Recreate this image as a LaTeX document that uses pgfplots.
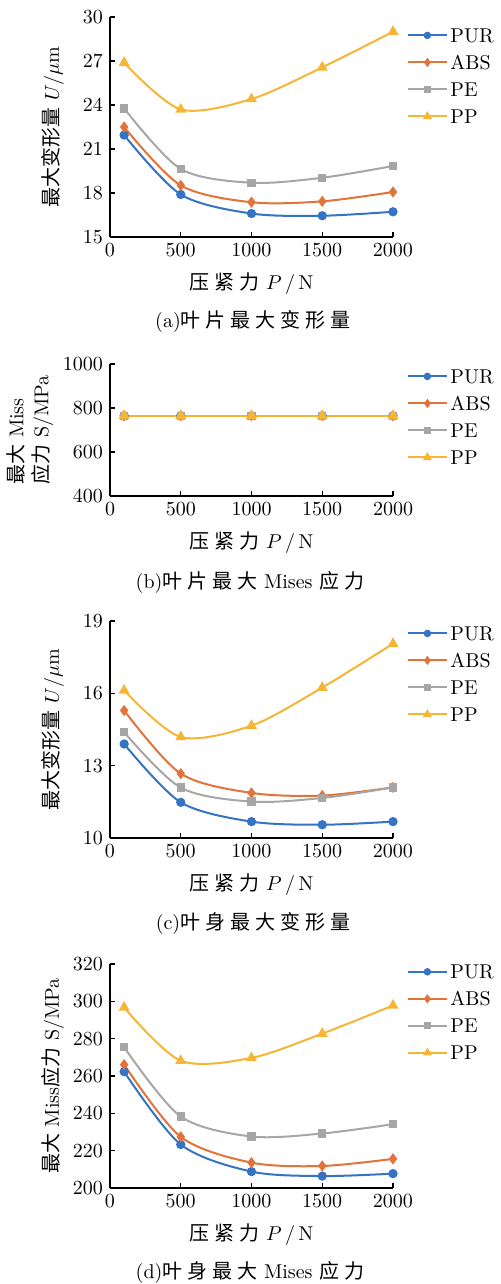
\documentclass[border=0pt]{standalone}
\usepackage{fontspec}
\usepackage{pgfplots}
\usepackage{pgfplotstable}
\pgfplotsset{compat=1.18}

\newfontfamily\cjk{Noto Sans CJK SC}
\newfontfamily\cjksp{Noto Sans CJK SC}[LetterSpace=25]

\definecolor{cpur}{HTML}{3573C4}
\definecolor{cabs}{HTML}{E2733A}
\definecolor{cpe}{HTML}{A6A6A6}
\definecolor{cpp}{HTML}{F6B534}

% blade max deformation (um)
\pgfplotstableread{
P    pur    abs    pe     pp
100  21.95  22.50  23.77  26.89
500  17.90  18.52  19.64  23.70
1000 16.60  17.37  18.70  24.41
1500 16.45  17.43  19.04  26.57
2000 16.72  18.07  19.84  29.00
}\bladedef
% blade max Mises stress (MPa)
\pgfplotstableread{
P    pur  abs  pe   pp
100  765  765  765  765
500  765  765  765  765
1000 765  765  765  765
1500 765  765  765  765
2000 765  765  765  765
}\bladestress
% body max deformation (um)
\pgfplotstableread{
P    pur    abs    pe     pp
100  13.90  15.29  14.39  16.12
500  11.48  12.67  12.09  14.19
1000 10.68  11.87  11.51  14.66
1500 10.55  11.76  11.66  16.24
2000 10.68  12.10  12.10  18.06
}\bodydef
% body max Mises stress (MPa)
\pgfplotstableread{
P    pur    abs    pe     pp
100  262.3  266.1  275.4  296.7
500  223.3  227.4  238.3  268.2
1000 208.8  213.6  227.6  269.7
1500 206.4  211.8  229.2  282.7
2000 207.7  215.6  234.2  297.8
}\bodystress

\pgfplotsset{
  panel/.style={
    scale only axis, width=141.5pt,
    xmin=0, xmax=2000, xtick={0,500,1000,1500,2000},
    enlargelimits=false, clip=false,
    axis x line*=bottom, axis y line*=left,
    axis line style={-, line width=0.7pt},
    tick align=inside, major tick length=2.5pt,
    tick style={black, line width=0.6pt},
    tick label style={font=\fontsize{10}{12}\selectfont},
    scaled ticks=false,
    xticklabel style={/pgf/number format/.cd, 1000 sep={}},
    yticklabel style={/pgf/number format/.cd, 1000 sep={}},
    xlabel={{\cjksp 压紧力} $P$\,/\,N},
    xlabel style={at={(axis description cs:0.5,0)}, anchor=center, yshift=-23.5pt,
      font=\fontsize{10}{12}\selectfont},
    ylabel style={font=\fontsize{10}{12}\selectfont},
    legend cell align=left,
    legend image code/.code={\draw[mark repeat=2, mark phase=2,
      every mark/.append style={scale=0.75}]
      plot coordinates {(0pt,0pt) (9.5pt,0pt) (19pt,0pt)};},
    legend style={draw=none, fill=none, inner sep=0pt,
      at={(axis description cs:1,1)}, anchor=north west, xshift=7pt,
      font=\fontsize{10}{12}\selectfont, row sep=6.5pt,
      nodes={inner xsep=1.5pt, inner ysep=0pt, text height=7pt, text depth=0pt}},
  },
  spur/.style={color=cpur, line width=1pt, smooth, mark=*, mark size=1.8pt},
  sabs/.style={color=cabs, line width=1pt, smooth, mark=diamond*, mark size=2pt},
  spe/.style={color=cpe, line width=1pt, smooth, mark=square*, mark size=1.6pt},
  spp/.style={color=cpp, line width=1pt, smooth, mark=triangle*, mark size=2.2pt},
}

\newcommand\fourseries[1]{%
  \addplot[spur] table[x=P, y=pur] {#1};
  \addplot[sabs] table[x=P, y=abs] {#1};
  \addplot[spe]  table[x=P, y=pe]  {#1};
  \addplot[spp]  table[x=P, y=pp]  {#1};
  \legend{PUR, ABS, PE, PP}%
}

\begin{document}
\begin{tikzpicture}
\useasboundingbox (0pt,0pt) rectangle (250.5pt,-642pt);

% (a)
\begin{axis}[panel, at={(55pt,-118.5pt)}, anchor=south west, height=110pt,
  ymin=15, ymax=30, ytick={15,18,...,30},
  ylabel={{\cjk 最大变形量} $U/\mu$m},
  ylabel style={at={(axis description cs:-0.2014,0.5)}, anchor=center},
  legend style={yshift=-5.5pt}]
  \fourseries{\bladedef}
\end{axis}
\node[font=\fontsize{10}{12}\selectfont] at (126.5pt,-161pt) {(a){\cjksp 叶片最大变形量}};

% (b)
\begin{axis}[panel, at={(55pt,-248pt)}, anchor=south west, height=66pt,
  ymin=400, ymax=1000, ytick={400,600,800,1000},
  ylabel={{\cjk 最大} Miss\\{\cjk 应力} S/MPa},
  ylabel style={at={(axis description cs:-0.2827,0.5)}, anchor=center,
    align=left, font=\fontsize{10}{12.5}\selectfont},
  legend style={yshift=-2.5pt}]
  \fourseries{\bladestress}
\end{axis}
\node[font=\fontsize{10}{12}\selectfont] at (125pt,-291.5pt) {(b){\cjksp 叶片最大} Mises {\cjksp 应力}};

% (c)
\begin{axis}[panel, at={(55pt,-419pt)}, anchor=south west, height=108.5pt,
  ymin=10, ymax=19, ytick={10,13,16,19},
  ylabel={{\cjk 最大变形量} $U/\mu$m},
  ylabel style={at={(axis description cs:-0.2014,0.5)}, anchor=center},
  legend style={yshift=-2.5pt}]
  \fourseries{\bodydef}
\end{axis}
\node[font=\fontsize{10}{12}\selectfont] at (126.5pt,-461.5pt) {(c){\cjksp 叶身最大变形量}};

% (d)
\begin{axis}[panel, at={(55pt,-594pt)}, anchor=south west, height=112pt,
  ymin=200, ymax=320, ytick={200,220,...,320},
  ylabel={{\cjk 最大} Miss{\cjk 应力} S/MPa},
  ylabel style={at={(axis description cs:-0.2014,0.5)}, anchor=center},
  legend style={yshift=-0.2pt}]
  \fourseries{\bodystress}
\end{axis}
\node[font=\fontsize{10}{12}\selectfont] at (125pt,-636.5pt) {(d){\cjksp 叶身最大} Mises {\cjksp 应力}};
\end{tikzpicture}
\end{document}
